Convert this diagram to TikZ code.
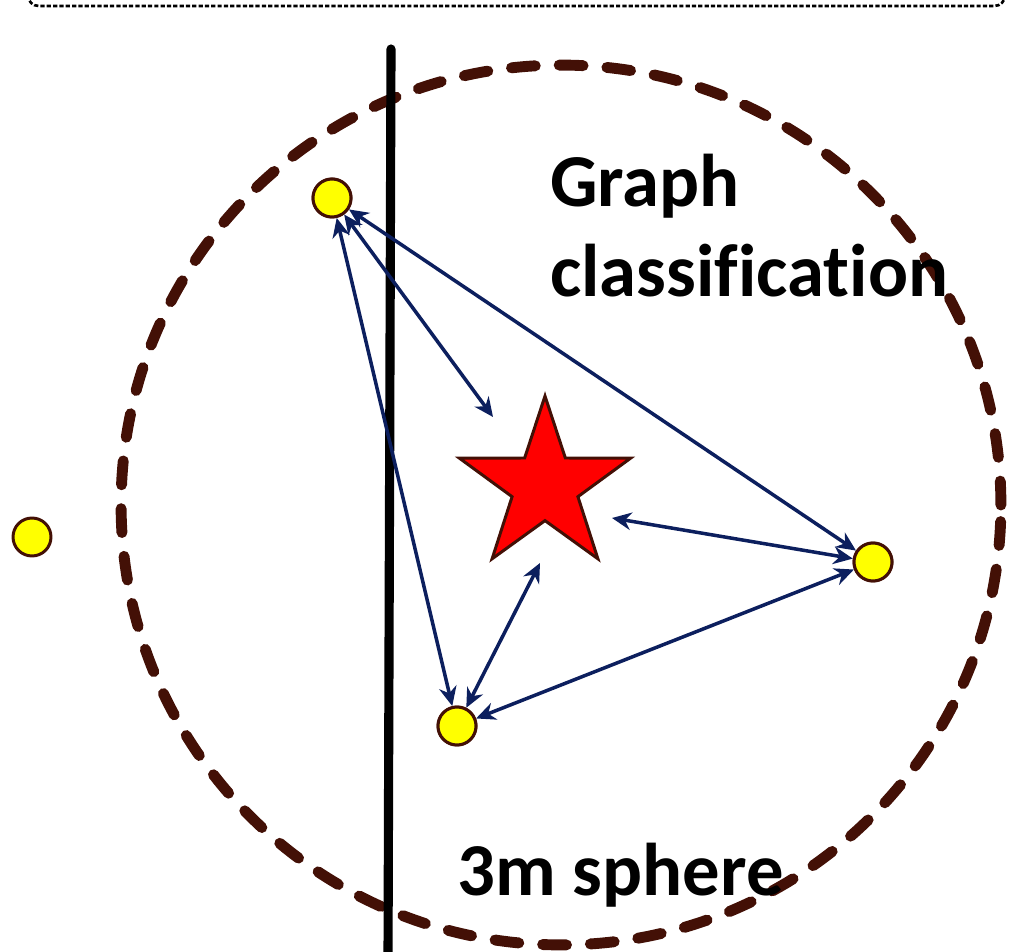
\documentclass[tikz,border=0pt]{standalone}
\usepackage{fontspec}
\setmainfont{Carlito}[Ligatures=NoCommon]
\usetikzlibrary{arrows.meta,shapes.geometric}
\definecolor{rim}{HTML}{431006}
\definecolor{navy}{HTML}{0C1F5E}
\definecolor{sun}{HTML}{FFFF00}
\definecolor{hot}{HTML}{FF0000}

\begin{document}
\begin{tikzpicture}[x=0.02cm,y=-0.02cm,
    sensor/.style={circle,draw=rim,fill=sun,line width=1.7pt,minimum size=0.76cm,inner sep=0pt},
    target/.style={star,star points=5,star point ratio=2.6,draw=rim,fill=hot,line width=1.7pt,minimum size=3.6cm,inner sep=0pt},
    sphere/.style={draw=rim,line width=6.2pt,line cap=round,dash pattern=on 13.6pt off 13.6pt},
    wall/.style={draw=black,line width=5.2pt,line cap=round},
    arr/.style={{Stealth[length=11pt,width=10pt]}-{Stealth[length=11pt,width=10pt]},line width=2pt,color=navy},
    lbl/.style={font=\bfseries\fontsize{42.5}{51}\selectfont,text=black,inner sep=0pt}
  ]
  \useasboundingbox (0,0) rectangle (1031,952);
  % frame above, cut by the page edge
  \draw[line width=1.5pt,dash pattern=on 2.4pt off 1.2pt,rounded corners=6pt] (28,-60) rectangle (1005,6);
  % 3 m sphere
  \draw[sphere] (561,505) circle[radius=8.8cm];
  % wall
  \draw[wall] (391,49) -- (388,960);
  % target and sensors
  \node[target] (tgt) at (545,486) {};
  \node[sensor] (p1) at (332,198) {};
  \node[sensor] (p2) at (32,537) {};
  \node[sensor] (p3) at (873,562) {};
  \node[sensor] (p4) at (457,726) {};
  \coordinate (t1) at (493,417);
  \coordinate (t2) at (612,518);
  \coordinate (t3) at (540,563);
  % links
  \draw[arr] (p1) -- (t1);
  \draw[arr] (p1) -- (p3);
  \draw[arr] (p1) -- (p4);
  \draw[arr] (t2) -- (p3);
  \draw[arr] (t3) -- (p4);
  \draw[arr] (p4) -- (p3);
  \node[sensor] at (p1) {};
  \node[sensor] at (p3) {};
  \node[sensor] at (p4) {};
  % labels
  \node[lbl,align=left,anchor=north west] (title) at (550,154) {Graph\\classification};
  \node[lbl,anchor=base west] (radius) at (457,895) {3m sphere};
\end{tikzpicture}
\end{document}
